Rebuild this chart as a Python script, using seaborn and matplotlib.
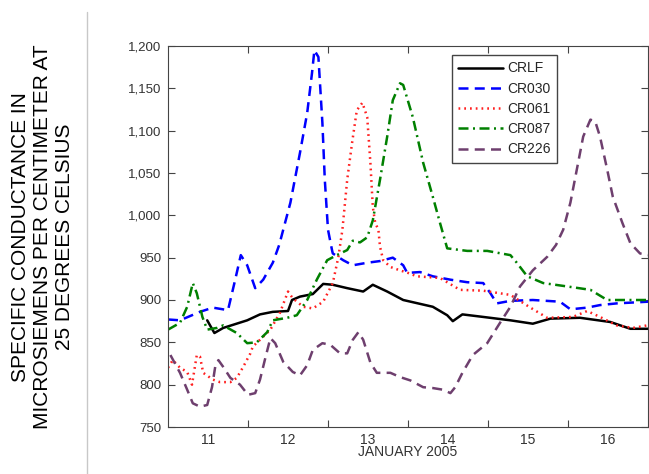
import matplotlib
matplotlib.use("Agg")
import matplotlib.pyplot as plt
from matplotlib.lines import Line2D
from matplotlib.ticker import FixedLocator, FuncFormatter, NullFormatter
import numpy as np
import pandas as pd
import seaborn as sns

# day of January 2005 (fractional) and specific conductance
crlf_day = [11.49, 11.58, 11.69, 11.99, 12.15, 12.31, 12.50, 12.55, 12.65, 12.81,
            12.94, 13.06, 13.24, 13.44, 13.56, 13.74, 13.94, 14.31, 14.49, 14.56,
            14.68, 14.94, 15.28, 15.56, 15.78, 16.15, 16.53, 16.78, 17.00]
crlf_val = [876, 861, 867, 876, 883, 886, 887, 900, 904, 907,
            919, 918, 914, 910, 918, 910, 900, 892, 882, 875,
            883, 880, 876, 872, 878, 879, 874, 866, 866]

cr030_day = [11.00, 11.15, 11.40, 11.56, 11.75, 11.84, 11.91, 11.99, 12.09, 12.19,
             12.31, 12.39, 12.53, 12.65, 12.74, 12.80, 12.83, 12.88, 12.93, 12.96,
             13.00, 13.05, 13.06, 13.19, 13.31, 13.49, 13.65, 13.81, 13.94, 13.99,
             14.15, 14.31, 14.53, 14.74, 14.94, 15.03, 15.11, 15.28, 15.56, 15.90,
             16.03, 16.24, 16.40, 16.61, 17.00]
cr030_val = [877, 876, 886, 891, 888, 924, 953, 941, 914, 924,
             944, 965, 1015, 1074, 1121, 1168, 1195, 1187, 1109, 1042,
             983, 959, 955, 947, 941, 944, 946, 950, 941, 932,
             933, 928, 924, 921, 920, 908, 896, 899, 900, 898,
             889, 891, 894, 896, 898]

cr061_day = [11.00, 11.06, 11.15, 11.24, 11.30, 11.36, 11.40, 11.44, 11.56, 11.65,
             11.78, 11.86, 11.94, 12.03, 12.06, 12.15, 12.28, 12.40, 12.50, 12.56,
             12.69, 12.81, 12.94, 13.06, 13.13, 13.18, 13.24, 13.30, 13.36, 13.43,
             13.49, 13.53, 13.56, 13.59, 13.63, 13.65, 13.69, 13.78, 13.90, 14.00,
             14.11, 14.40, 14.65, 14.94, 15.28, 15.53, 15.74, 16.06, 16.24, 16.40,
             16.61, 16.81, 16.99]
cr061_val = [820, 829, 820, 815, 800, 835, 833, 814, 806, 803,
             803, 808, 821, 837, 845, 853, 865, 885, 910, 902,
             892, 890, 898, 920, 951, 983, 1042, 1085, 1124, 1133,
             1116, 1062, 1010, 991, 983, 963, 947, 939, 935, 932,
             928, 926, 912, 911, 906, 891, 879, 880, 887, 880,
             870, 867, 870]

cr087_day = [11.00, 11.15, 11.24, 11.31, 11.36, 11.43, 11.49, 11.61, 11.69, 11.86,
             11.99, 12.11, 12.24, 12.31, 12.49, 12.61, 12.74, 12.86, 12.99, 13.11,
             13.24, 13.31, 13.40, 13.49, 13.56, 13.65, 13.74, 13.81, 13.90, 13.94,
             14.06, 14.19, 14.31, 14.40, 14.49, 14.74, 14.99, 15.28, 15.36, 15.49,
             15.69, 15.99, 16.28, 16.49, 16.61, 16.74, 17.00]
cr087_val = [865, 873, 892, 920, 908, 880, 865, 867, 870, 861,
             849, 850, 862, 876, 879, 882, 900, 924, 947, 953,
             959, 970, 968, 974, 994, 1042, 1093, 1136, 1156, 1154,
             1116, 1062, 1022, 991, 961, 958, 958, 953, 944, 928,
             920, 916, 912, 900, 900, 900, 900]

cr226_day = [11.03, 11.15, 11.24, 11.31, 11.40, 11.49, 11.55, 11.59, 11.63, 11.69,
             11.78, 11.90, 12.00, 12.09, 12.15, 12.21, 12.28, 12.34, 12.44, 12.56,
             12.65, 12.74, 12.81, 12.93, 13.03, 13.15, 13.24, 13.31, 13.38, 13.44,
             13.53, 13.61, 13.78, 13.90, 14.03, 14.19, 14.31, 14.44, 14.53, 14.59,
             14.68, 14.81, 14.99, 15.15, 15.28, 15.40, 15.56, 15.74, 15.85, 15.94,
             16.03, 16.11, 16.19, 16.28, 16.34, 16.40, 16.49, 16.56, 16.68, 16.78,
             16.90, 17.00]
cr226_val = [835, 814, 794, 778, 774, 776, 797, 821, 829, 821,
             808, 800, 788, 790, 806, 829, 855, 849, 827, 815,
             811, 823, 841, 849, 847, 837, 837, 853, 862, 853,
             826, 814, 814, 809, 805, 797, 796, 794, 790, 797,
             814, 835, 849, 873, 892, 916, 935, 951, 965, 983,
             1015, 1054, 1093, 1113, 1111, 1093, 1054, 1022, 991, 967,
             955, 953]

stations = ["CRLF", "CR030", "CR061", "CR087", "CR226"]
day_labels = ["11", "12", "13", "14", "15", "16"]

series = {
    "CRLF": (crlf_day, crlf_val),
    "CR030": (cr030_day, cr030_val),
    "CR061": (cr061_day, cr061_val),
    "CR087": (cr087_day, cr087_val),
    "CR226": (cr226_day, cr226_val),
}
rows = []
for name in stations:
    for d, v in zip(*series[name]):
        rows.append([name, d, v])
df = pd.DataFrame(rows, columns=["station", "day", "value"])

palette = {"CRLF": "black", "CR030": "#0000ff", "CR061": "#ff2020",
           "CR087": "#008000", "CR226": "#6e3f6e"}
dashes = {"CRLF": "", "CR030": (4, 2.5), "CR061": (0.7, 1.6),
          "CR087": (4, 1.8, 0.8, 1.8), "CR226": (4, 2.5)}

sns.set_style("white")
plt.rcParams["font.family"] = ["Liberation Sans", "DejaVu Sans"]

fig = plt.figure(figsize=(6.49, 4.74), dpi=100)
ax = fig.add_axes([168 / 649, 47 / 474, 480 / 649, 381 / 474])

sns.lineplot(data=df, x="day", y="value", hue="station", style="station",
             hue_order=stations, style_order=stations, palette=palette,
             dashes=dashes, estimator=None, linewidth=1.8, legend=False, ax=ax)

ax.set_xlim(11, 17)
ax.set_ylim(750, 1200)

# day boundaries get ticks, day names sit in the middle
ax.xaxis.set_major_locator(FixedLocator([12, 13, 14, 15, 16]))
ax.xaxis.set_major_formatter(NullFormatter())
ax.xaxis.set_minor_locator(FixedLocator([11.5, 12.5, 13.5, 14.5, 15.5, 16.5]))
ax.set_xticklabels(day_labels, minor=True)
ax.set_yticks(np.arange(750, 1201, 50))
ax.yaxis.set_major_formatter(FuncFormatter(lambda v, p: f"{v:,.0f}"))

ax.tick_params(axis="both", which="major", direction="in", length=5, width=0.8,
               color="#444444", labelsize=9.5, labelcolor="#333333",
               top=True, right=True, bottom=True, left=True)
ax.tick_params(axis="x", which="minor", length=0, labelsize=10,
               labelcolor="#333333", pad=4)
ax.tick_params(axis="y", which="major", pad=5)
for s in ax.spines.values():
    s.set_visible(True)
    s.set_color("#444444")
    s.set_linewidth(0.8)

ax.set_xlabel("JANUARY 2005", fontsize=10, color="#333333", labelpad=-1)
ax.set_ylabel("")

ax.legend(ax.lines, stations, loc="upper left", bbox_to_anchor=(0.592, 0.976),
          borderaxespad=0, fontsize=10, frameon=True, fancybox=False,
          edgecolor="#444444", framealpha=1, handlelength=3.2,
          handletextpad=0.35, labelspacing=0.45, borderpad=0.45)

fig.text(43 / 649, 1 - 237 / 474,
         "SPECIFIC CONDUCTANCE IN\nMICROSIEMENS PER CENTIMETER AT\n25 DEGREES CELSIUS",
         rotation=90, ha="center", va="center", multialignment="center",
         fontsize=15, linespacing=1.2, color="black")
fig.add_artist(Line2D([87 / 649, 87 / 649], [0, 1 - 12 / 474],
                      transform=fig.transFigure, color="#c8c8c8", linewidth=1))

fig.savefig("out.png", dpi=100, facecolor="white")
